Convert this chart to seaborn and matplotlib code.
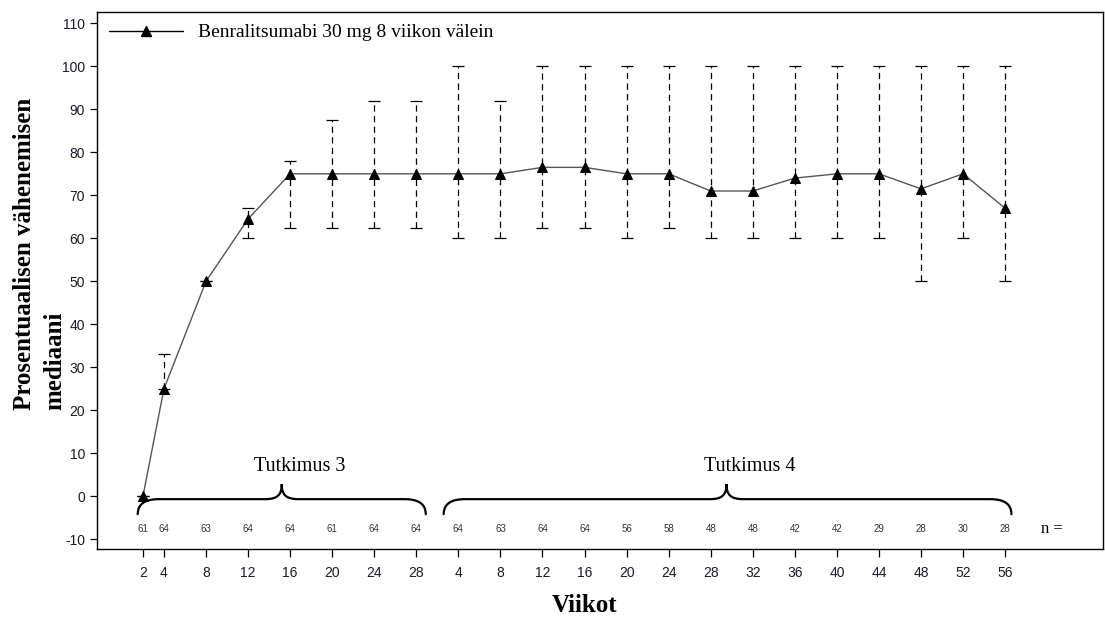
import matplotlib
matplotlib.use("Agg")
import matplotlib.pyplot as plt
import seaborn as sns
import numpy as np
from matplotlib.path import Path
from matplotlib.patches import PathPatch
from matplotlib.lines import Line2D

# data
weeks_s3 = [2, 4, 8, 12, 16, 20, 24, 28]
weeks_s4 = [4, 8, 12, 16, 20, 24, 28, 32, 36, 40, 44, 48, 52, 56]
median = [0, 25, 50, 64.5, 75, 75, 75, 75,
          75, 75, 76.5, 76.5, 75, 75, 71, 71, 74, 75, 75, 71.5, 75, 67]
upper = [0, 33, 50, 67, 78, 87.5, 92, 92,
         100, 92, 100, 100, 100, 100, 100, 100, 100, 100, 100, 100, 100, 100]
lower = [0, 25, 50, 60, 62.5, 62.5, 62.5, 62.5,
         60, 60, 62.5, 62.5, 60, 62.5, 60, 60, 60, 60, 60, 50, 60, 50]
n_counts = [61, 64, 63, 64, 64, 61, 64, 64,
            64, 63, 64, 64, 56, 58, 48, 48, 42, 42, 29, 28, 30, 28]
series_label = "Benralitsumabi 30 mg 8 viikon välein"

# study 4 continues after study 3 on the same week axis
pos = np.array(weeks_s3 + [weeks_s3[-1] + w for w in weeks_s4], dtype=float)
tick_labels = [str(w) for w in weeks_s3 + weeks_s4]
median = np.array(median)
upper = np.array(upper)
lower = np.array(lower)

sns.set_style("ticks")
plt.rcParams["font.family"] = ["Liberation Sans", "DejaVu Sans"]
plt.rcParams["axes.unicode_minus"] = False
plt.rcParams["text.color"] = "black"
SERIF = ["Liberation Serif", "DejaVu Serif"]

fig = plt.figure(figsize=(11.05, 6.17), dpi=100)
ax = fig.add_axes([0.0878, 0.1102, 0.910, 0.870])

eb = ax.errorbar(pos, median, yerr=[median - lower, upper - median], fmt="none",
                 ecolor="black", elinewidth=0.9, capsize=4, capthick=0.9, zorder=2)
eb[2][0].set_linestyle((0, (5, 3.5)))

sns.lineplot(x=pos, y=median, ax=ax, color="#555555", linewidth=1.0,
             marker="^", markersize=7, markerfacecolor="black",
             markeredgecolor="black", sort=False, zorder=3)

ax.set_xlim(-2.37, 93.27)
ax.set_ylim(-12.3, 112.6)
ax.set_yticks(np.arange(-10, 111, 10))
ax.set_xticks(pos)
ax.set_xticklabels(tick_labels)
ax.tick_params(axis="both", labelsize=10, colors="black", labelcolor="#1a1a2a",
               width=0.9, length=5)
ax.tick_params(axis="x", length=6, pad=6)
for s in ax.spines.values():
    s.set_linewidth(1.0)
    s.set_color("black")
ax.set_xlabel("")
ax.set_ylabel("")

# n per visit
for x, n in zip(pos, n_counts):
    ax.text(x, -7.6, str(n), ha="center", va="center", fontsize=7, color="#333333")
ax.text(87.4, -7.6, "n =", ha="left", va="center", fontsize=12, family=SERIF)


def brace(x0, x1, xm, y_end=-4.2, y_line=-0.7, y_peak=2.8, r=2.0, k=1.6):
    verts = [(x0, y_end), (x0, y_line), (x0 + r, y_line),
             (xm - k, y_line),
             (xm - 0.4, y_line), (xm, y_line + 1.0), (xm, y_peak),
             (xm, y_line + 1.0), (xm + 0.4, y_line), (xm + k, y_line),
             (x1 - r, y_line),
             (x1, y_line), (x1, y_end)]
    codes = [Path.MOVETO, Path.CURVE3, Path.CURVE3,
             Path.LINETO,
             Path.CURVE4, Path.CURVE4, Path.CURVE4,
             Path.CURVE4, Path.CURVE4, Path.CURVE4,
             Path.LINETO,
             Path.CURVE3, Path.CURVE3]
    ax.add_patch(PathPatch(Path(verts, codes), fill=False, lw=1.6,
                           edgecolor="black", capstyle="round"))


n3 = len(weeks_s3)
brace(pos[0] - 0.5, pos[n3 - 1] + 0.9, (pos[0] + pos[n3 - 1]) / 2 + 0.2)
brace(pos[n3] - 1.4, pos[-1] + 0.6, (pos[n3] + pos[-1]) / 2 - 0.5)
ax.text(16.9, 7.0, "Tutkimus 3", ha="center", va="center", fontsize=14.5, family=SERIF)
ax.text(59.7, 7.0, "Tutkimus 4", ha="center", va="center", fontsize=14.5, family=SERIF)

handle = Line2D([], [], color="black", lw=1.0, marker="^", markersize=7)
leg = ax.legend([handle], [series_label], loc="upper left", frameon=False,
                handlelength=3.8, handletextpad=0.8, borderaxespad=0.2,
                prop={"family": SERIF, "size": 14})
for t in leg.get_texts():
    t.set_color("black")

fig.text(0.036, 0.335, "Prosentuaalisen vähenemisen\nmediaani", rotation=90,
         ha="center", va="bottom", multialignment="left", fontsize=18,
         fontweight="bold", family=SERIF, color="black", linespacing=1.4)
fig.text(0.529, 0.019, "Viikot", ha="center", va="center", fontsize=18,
         fontweight="bold", family=SERIF, color="black")

fig.savefig("out.png", dpi=100)
